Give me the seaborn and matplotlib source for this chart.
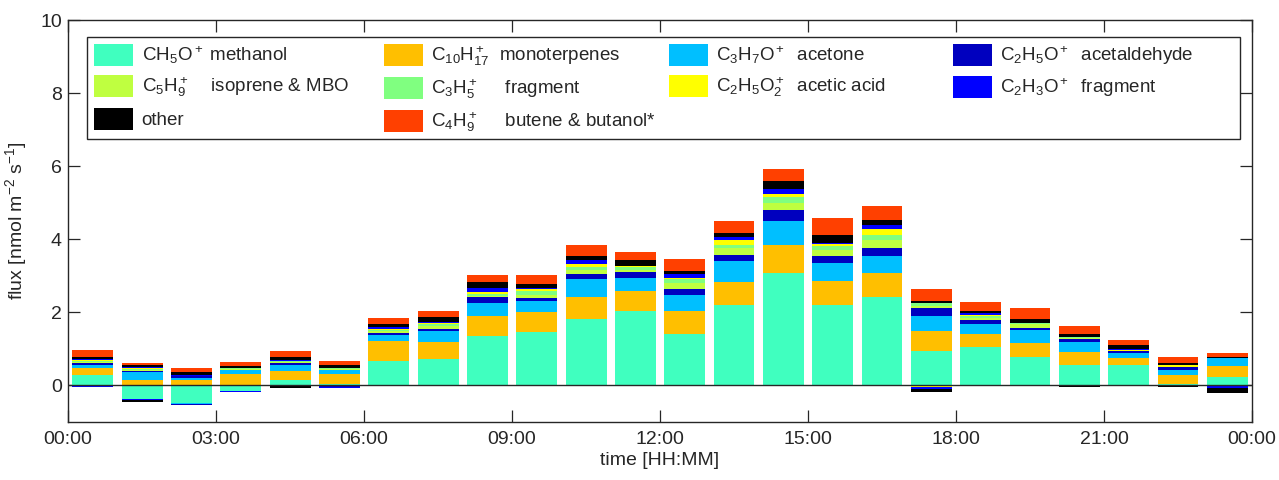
import numpy as np
import matplotlib
matplotlib.use("Agg")
import matplotlib.pyplot as plt
from matplotlib.patches import Rectangle
from matplotlib.legend import Legend
import seaborn as sns

# hourly bins (start hour), bars drawn at bin centre
hour_start = [0, 1, 2, 3, 4, 5, 6, 7, 8, 9, 10, 11,
              12, 13, 14, 15, 16, 17, 18, 19, 20, 21, 22, 23]
tick_hours = [0, 3, 6, 9, 12, 15, 18, 21, 24]
tick_labels = ["00:00", "03:00", "06:00", "09:00", "12:00",
               "15:00", "18:00", "21:00", "00:00"]

# positive fluxes [nmol m-2 s-1], stacked bottom -> top
methanol = [0.29, 0.00, 0.00, 0.00, 0.15, 0.04, 0.67, 0.73, 1.36, 1.45, 1.82, 2.03,
            1.42, 2.20, 3.07, 2.20, 2.42, 0.95, 1.04, 0.79, 0.56, 0.56, 0.03, 0.22]
monoterpenes = [0.18, 0.16, 0.16, 0.32, 0.25, 0.27, 0.54, 0.45, 0.53, 0.55, 0.60, 0.55,
                0.61, 0.63, 0.78, 0.65, 0.66, 0.55, 0.38, 0.38, 0.36, 0.20, 0.26, 0.30]
acetone = [0.10, 0.20, 0.05, 0.09, 0.16, 0.11, 0.18, 0.30, 0.37, 0.31, 0.49, 0.37,
           0.45, 0.58, 0.65, 0.49, 0.46, 0.40, 0.25, 0.34, 0.27, 0.13, 0.12, 0.22]
acetaldehyde = [0.04, 0.04, 0.04, 0.02, 0.06, 0.01, 0.05, 0.07, 0.15, 0.07, 0.13, 0.15,
                0.16, 0.16, 0.30, 0.20, 0.22, 0.22, 0.11, 0.05, 0.08, 0.05, 0.09, 0.00]
isoprene = [0.03, 0.02, 0.01, 0.02, 0.03, 0.03, 0.05, 0.07, 0.05, 0.10, 0.11, 0.07,
            0.17, 0.19, 0.20, 0.16, 0.22, 0.06, 0.06, 0.12, 0.03, 0.01, 0.00, 0.00]
c3h5 = [0.02, 0.02, 0.01, 0.03, 0.02, 0.01, 0.04, 0.06, 0.04, 0.10, 0.09, 0.06,
        0.10, 0.08, 0.15, 0.13, 0.15, 0.07, 0.05, 0.03, 0.03, 0.00, 0.00, 0.00]
acetic_acid = [0.03, 0.04, 0.00, 0.00, 0.01, 0.01, 0.02, 0.02, 0.07, 0.07, 0.09, 0.05,
               0.04, 0.14, 0.09, 0.05, 0.15, 0.00, 0.04, 0.00, 0.00, 0.01, 0.07, 0.02]
c2h3o = [0.04, 0.02, 0.02, 0.01, 0.03, 0.01, 0.05, 0.04, 0.10, 0.02, 0.09, 0.00,
         0.09, 0.09, 0.13, 0.03, 0.11, 0.01, 0.06, 0.00, 0.00, 0.04, 0.00, 0.00]
other = [0.05, 0.05, 0.07, 0.05, 0.06, 0.06, 0.09, 0.12, 0.15, 0.11, 0.13, 0.16,
         0.09, 0.11, 0.22, 0.20, 0.14, 0.05, 0.05, 0.11, 0.07, 0.11, 0.05, 0.03]
butene = [0.19, 0.07, 0.12, 0.11, 0.17, 0.12, 0.15, 0.18, 0.19, 0.23, 0.30, 0.20,
          0.33, 0.32, 0.33, 0.48, 0.38, 0.32, 0.25, 0.29, 0.24, 0.13, 0.15, 0.10]

# negative (deposition) fluxes, stacked downwards from zero
methanol_neg = [0, -0.36, -0.47, -0.15, 0, 0, 0, 0, 0, 0, 0, 0,
                0, 0, 0, 0, 0, 0, 0, 0, 0, 0, 0, 0]
acetone_neg = [0, 0, -0.03, 0, 0, -0.01, 0, 0, 0, 0, 0, 0,
               0, 0, 0, 0, 0, 0, 0, 0, 0, 0, 0, 0]
acetaldehyde_neg = [-0.02, 0, -0.03, 0, 0, -0.02, 0, 0, 0, 0, 0, 0,
                    0, 0, 0, 0, 0, 0, 0, 0, 0, 0, 0, 0]
acetic_acid_neg = [0, 0, 0, 0, 0, 0, 0, 0, 0, 0, 0, 0,
                   0, 0, 0, 0, 0, -0.05, 0, 0, 0, 0, 0, 0]
c2h3o_neg = [-0.03, -0.03, 0, -0.04, 0, -0.05, 0, 0, 0, 0, 0, 0,
             0, 0, 0, 0, 0, -0.05, 0, 0, 0, 0, 0, -0.08]
other_neg = [0, -0.07, 0, 0, -0.06, 0, 0, 0, 0, -0.02, 0, -0.02,
             0, 0, 0, 0, 0, -0.07, 0, 0, -0.03, 0, -0.04, -0.12]
zeros = [0] * 24

# stacking order, labels, colours
species = [
    ("methanol",     methanol,     methanol_neg,     "#40FFBF", r"CH$_5$O$^+$ methanol"),
    ("monoterpenes", monoterpenes, zeros,            "#FFBF00", r"C$_{10}$H$_{17}^+$  monoterpenes"),
    ("acetone",      acetone,      acetone_neg,      "#00BFFF", r"C$_3$H$_7$O$^+$  acetone"),
    ("acetaldehyde", acetaldehyde, acetaldehyde_neg, "#0000BF", r"C$_2$H$_5$O$^+$  acetaldehyde"),
    ("isoprene",     isoprene,     zeros,            "#BFFF40", r"C$_5$H$_9^+$    isoprene & MBO"),
    ("c3h5",         c3h5,         zeros,            "#80FF80", r"C$_3$H$_5^+$     fragment"),
    ("acetic_acid",  acetic_acid,  acetic_acid_neg,  "#FFFF00", r"C$_2$H$_5$O$_2^+$  acetic acid"),
    ("c2h3o",        c2h3o,        c2h3o_neg,        "#0000FF", r"C$_2$H$_3$O$^+$  fragment"),
    ("other",        other,        other_neg,        "#000000", "other"),
    ("butene",       butene,       zeros,            "#FF4000", r"C$_4$H$_9^+$     butene & butanol*"),
]
legend_columns = [["methanol", "isoprene", "other"],
                  ["monoterpenes", "c3h5", "butene"],
                  ["acetone", "acetic_acid"],
                  ["acetaldehyde", "c2h3o"]]

sns.set_theme(style="ticks")
plt.rcParams["font.family"] = ["Liberation Sans", "DejaVu Sans"]
plt.rcParams["mathtext.fontset"] = "custom"
plt.rcParams["mathtext.rm"] = "Liberation Sans"
plt.rcParams["mathtext.it"] = "Liberation Sans"
plt.rcParams["mathtext.default"] = "regular"
dark = "#262626"

fig = plt.figure(figsize=(12.79, 4.8), dpi=100)
ax = fig.add_axes([0.0532, 0.1208, 0.9257, 0.8375])

x = np.array(hour_start) + 0.5
pos_base = np.zeros(24)
neg_base = np.zeros(24)
handles = {}
for key, pos, neg, color, label in species:
    pos = np.array(pos, dtype=float)
    neg = np.array(neg, dtype=float)
    h = ax.bar(x, pos, bottom=pos_base, width=0.83, color=color, linewidth=0)
    ax.bar(x, neg, bottom=neg_base, width=0.83, color=color, linewidth=0)
    pos_base += pos
    neg_base += neg
    handles[key] = (h, label)

ax.axhline(0, color=dark, lw=1.0, zorder=3)

ax.set_xlim(0, 24)
ax.set_ylim(-1, 10)
ax.set_xticks(tick_hours)
ax.set_xticklabels(tick_labels)
ax.set_yticks([0, 2, 4, 6, 8, 10])
ax.tick_params(direction="in", length=8.5, width=0.9, top=True, right=True,
               labelsize=14, colors=dark)
ax.tick_params(axis="x", pad=6.5)
ax.tick_params(axis="y", pad=4.5)
for side in ["top", "right", "bottom", "left"]:
    ax.spines[side].set_visible(True)
    ax.spines[side].set_color(dark)
    ax.spines[side].set_linewidth(1.0)

ax.set_xlabel("time [HH:MM]", fontsize=14, color=dark, labelpad=3)
ax.set_ylabel(r"flux [nmol m$^{-2}$ s$^{-1}$]", fontsize=14, color=dark, labelpad=8)

# MATLAB-style legend: equal-width columns inside one frame
ax.add_patch(Rectangle((0.0158, 0.7032), 0.974, 0.2538, transform=ax.transAxes,
                       facecolor="white", edgecolor=dark, linewidth=1.0, zorder=4))
col_left = [0.0220, 0.2669, 0.5076, 0.7475]
for cx, keys in zip(col_left, legend_columns):
    leg = Legend(ax, [handles[k][0] for k in keys], [handles[k][1] for k in keys],
                 loc="upper left", bbox_to_anchor=(cx, 0.9415),
                 bbox_transform=ax.transAxes, frameon=False, fontsize=13.5,
                 handlelength=2.08, handleheight=1.44, labelspacing=0.48,
                 borderpad=0, borderaxespad=0, handletextpad=0.45)
    leg.set_zorder(5)
    ax.add_artist(leg)

fig.savefig("out.png", dpi=100)
